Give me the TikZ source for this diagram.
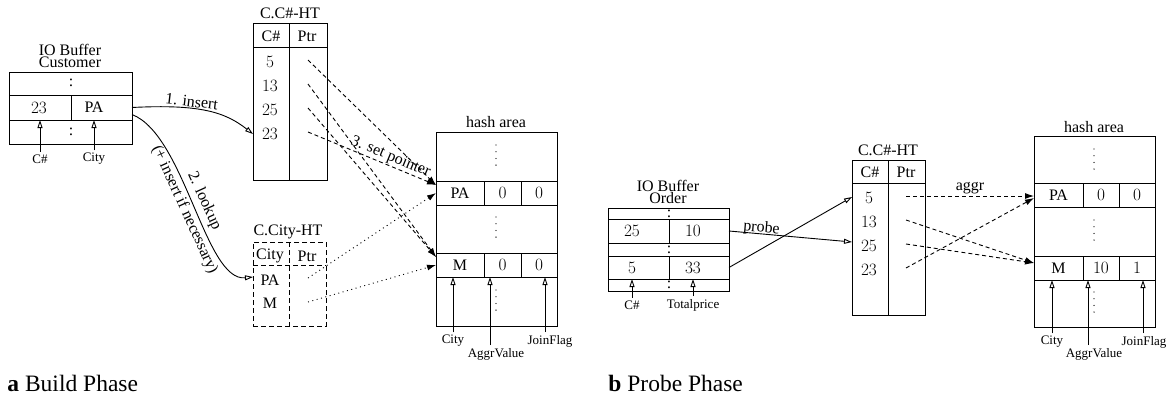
\documentclass[tikz,border=0pt]{standalone}
\usepackage{fontspec}
\setmainfont{Liberation Serif}
\usetikzlibrary{arrows.meta,positioning}
\newcommand{\tabfont}{\fontsize{16}{17}\selectfont}
\newcommand{\headfont}{\fontsize{16}{12}\selectfont}
\newcommand{\tagfont}{\fontsize{13}{14}\selectfont}
\newcommand{\capfont}{\fontsize{23.5}{26}\selectfont}

\begin{document}
\begin{tikzpicture}[x=1pt, y=-1pt, line width=0.9pt,
  txt/.style={font=\tabfont, inner sep=0pt},
  tagtxt/.style={font=\tagfont, inner sep=2.5pt},
  ttl/.style={font=\headfont, inner sep=0pt, align=center},
  slot/.style={draw, font=\tabfont, inner sep=0pt, outer sep=0pt, minimum height=24pt},
  tabframe/.style={draw, inner sep=0pt, outer sep=0pt, anchor=north west},
  dashframe/.style={dash pattern=on 5pt off 3pt},
  hollow/.style={-{Triangle[open, length=8pt, width=5pt]}},
  setptr/.style={dash pattern=on 4pt off 3pt, -{Latex[length=9pt, width=6pt]}},
  cityptr/.style={dash pattern=on 1pt off 3.5pt, -{Latex[length=9pt, width=6pt]}},
  gapdots/.style={line width=1.3pt, line cap=round, dash pattern=on 0pt off 6.7pt}
]
  \useasboundingbox (0,0) rectangle (1171,397);

  % a: build phase
  \node[ttl] (bufCust) at (70,56) {IO Buffer\\Customer};
  \node[tabframe, minimum width=123pt, minimum height=72pt] (custBox) at (9,72) {};
  \node[slot, minimum width=123pt, minimum height=25pt, anchor=north west] (custRow) at (9,95) {};
  \draw (71,95) -- (71,120);
  \node[txt] (custDotsTop) at (71,83) {:};
  \node[txt] (custDotsBot) at (71,132) {:};
  \node[txt] (custKey) at (39,107.5) {$23$};
  \node[txt] (custCity) at (94,107.5) {PA};
  \node[tagtxt] (lblCustKey) at (40,159) {C\#};
  \node[tagtxt] (lblCustCity) at (94,159) {City};
  \draw[hollow] (lblCustKey.north) -- (lblCustKey.north |- custRow.south);
  \draw[hollow] (lblCustCity.north) -- (lblCustCity.north |- custRow.south);

  \node[txt] (htKeyA) at (290,13) {C.C\#-HT};
  \node[tabframe, minimum width=74pt, minimum height=157pt] (tabA) at (253,23) {};
  \draw (253,47) -- (327,47) (289,23) -- (289,180);
  \node[txt] (hdKeyA) at (271,36) {C\#};
  \node[txt] (hdPtrA) at (307,36) {Ptr};
  \foreach \k/\y [count=\i] in {5/62,13/86,25/110,23/134}{
    \node[txt] (keyA\i) at (270,\y) {$\k$};
    \coordinate (ptrA\i) at (308,\y-2);
  }

  \node[txt] (htCity) at (288,232) {C.City-HT};
  \node[tabframe, dashframe, minimum width=73pt, minimum height=84pt] (tabCity) at (253,242) {};
  \draw[dashframe] (253,265) -- (326,265) (289,242) -- (289,326);
  \node[txt] (hdCity) at (270,256) {City};
  \node[txt] (hdPtrC) at (307,256) {Ptr};
  \node[txt] (cityPA) at (270,280) {PA};
  \node[txt] (cityM) at (270,303) {M};
  \coordinate (ptrC1) at (308,278);
  \coordinate (ptrC2) at (308,302);

  \node[txt] (areaA) at (496,122) {hash area};
  \node[tabframe, minimum width=121pt, minimum height=194pt] (hashA) at (436,132) {};
  \node[slot, minimum width=48pt, anchor=north west] (aPA) at (436,181) {PA};
  \node[slot, minimum width=37pt, right=0pt of aPA] (aPAv) {$0$};
  \node[slot, minimum width=36pt, right=0pt of aPAv] (aPAf) {$0$};
  \node[slot, minimum width=48pt, anchor=north west] (aM) at (436,253) {M};
  \node[slot, minimum width=37pt, right=0pt of aM] (aMv) {$0$};
  \node[slot, minimum width=36pt, right=0pt of aMv] (aMf) {$0$};
  \draw[gapdots] (496,145) -- (496,167) (496,217) -- (496,239) (496,290) -- (496,312);
  \node[tagtxt] (lblCityA) at (453,341) {City};
  \node[tagtxt] (lblAggrA) at (496,354) {AggrValue};
  \node[tagtxt] (lblFlagA) at (550,341) {JoinFlag};
  \draw[hollow] (lblCityA.north) -- (lblCityA.north |- aM.south);
  \draw[hollow] ([xshift=-6pt]lblAggrA.north) -- ([xshift=-6pt]lblAggrA.north |- aM.south);
  \draw[hollow] ([xshift=-5pt]lblFlagA.north) -- ([xshift=-5pt]lblFlagA.north |- aM.south);

  \draw[hollow] (custRow.east) .. controls (200,104) and (225,112) ..
    node[sloped, above, pos=0.36, font=\tabfont, inner sep=1pt] {1. insert} (tabA.west |- keyA4);
  \draw[hollow] ([yshift=-7pt]custRow.east) .. controls (185,135) and (205,282) ..
    node[sloped, above, font=\tabfont, inner sep=3pt] {2. lookup}
    node[sloped, below, font=\tabfont, inner sep=3pt] {(+ insert if necessary)}
    ([yshift=3pt]tabCity.west |- cityPA);

  \draw[setptr] (ptrA1) -- ([yshift=-4pt]aPA.north west);
  \draw[setptr] (ptrA4) -- node[sloped, above, pos=0.62, font=\tabfont, inner sep=1pt] {3. set pointer}
    ([yshift=-4pt]aPA.north west);
  \draw[setptr] (ptrA2) -- ([yshift=-4pt]aM.north west);
  \draw[setptr] (ptrA3) -- ([yshift=-4pt]aM.north west);
  \draw[cityptr] (ptrC1) -- (aPA.west);
  \draw[cityptr] (ptrC2) -- (aM.west);

  % b: probe phase
  \node[ttl] (bufOrder) at (668,192) {IO Buffer\\Order};
  \node[tabframe, minimum width=121pt, minimum height=83pt] (ordBox) at (608,208) {};
  \node[slot, minimum width=121pt, anchor=north west] (ordRow1) at (608,219) {};
  \node[slot, minimum width=121pt, minimum height=23pt, anchor=north west] (ordRow2) at (608,256) {};
  \draw (669,219) -- (669,243) (669,256) -- (669,279);
  \node[txt] (ordDots1) at (669,213.5) {:};
  \node[txt] (ordDots2) at (669,249.5) {:};
  \node[txt] (ordDots3) at (669,285) {:};
  \node[txt] (ordKey1) at (632,231) {$25$};
  \node[txt] (ordPrice1) at (693,231) {$10$};
  \node[txt] (ordKey2) at (632,267.5) {$5$};
  \node[txt] (ordPrice2) at (693,267.5) {$33$};
  \node[tagtxt] (lblOrdKey) at (632,305) {C\#};
  \node[tagtxt] (lblOrdPrice) at (693,305) {Totalprice};
  \draw[hollow] (lblOrdKey.north) -- (lblOrdKey.north |- ordRow2.south);
  \draw[hollow] (lblOrdPrice.north) -- (lblOrdPrice.north |- ordRow2.south);

  \node[txt] (htKeyB) at (888,150) {C.C\#-HT};
  \node[tabframe, minimum width=73pt, minimum height=155pt] (tabB) at (852,160) {};
  \draw (852,183) -- (925,183) (888,160) -- (888,315);
  \node[txt] (hdKeyB) at (870,172) {C\#};
  \node[txt] (hdPtrB) at (906,172) {Ptr};
  \foreach \k/\y [count=\i] in {5/198,13/222,25/246,23/270}{
    \node[txt] (keyB\i) at (869,\y) {$\k$};
    \coordinate (ptrB\i) at (906,\y-2);
  }

  \draw[hollow] (ordRow1.east) -- node[sloped, above=-2pt, pos=0.26, font=\tabfont, inner sep=0pt] {probe}
    ([yshift=4pt]tabB.west |- keyB3);
  \draw[hollow] (ordRow2.east) -- ([yshift=1pt]tabB.west |- keyB1);

  \node[txt] (areaB) at (1094,127) {hash area};
  \node[tabframe, minimum width=121pt, minimum height=191pt] (hashB) at (1034,136) {};
  \node[slot, minimum width=49pt, anchor=north west] (bPA) at (1034,183) {PA};
  \node[slot, minimum width=36pt, right=0pt of bPA] (bPAv) {$0$};
  \node[slot, minimum width=36pt, right=0pt of bPAv] (bPAf) {$0$};
  \node[slot, minimum width=49pt, anchor=north west] (bM) at (1034,256) {M};
  \node[slot, minimum width=36pt, right=0pt of bM] (bMv) {$10$};
  \node[slot, minimum width=36pt, right=0pt of bMv] (bMf) {$1$};
  \draw[gapdots] (1094,149) -- (1094,170) (1094,220) -- (1094,242) (1094,292) -- (1094,314);
  \node[tagtxt] (lblCityB) at (1052,342) {City};
  \node[tagtxt] (lblAggrB) at (1094,354) {AggrValue};
  \node[tagtxt] (lblFlagB) at (1144,342) {JoinFlag};
  \draw[hollow] (lblCityB.north) -- (lblCityB.north |- bM.south);
  \draw[hollow] ([xshift=-6pt]lblAggrB.north) -- ([xshift=-6pt]lblAggrB.north |- bM.south);
  \draw[hollow] ([xshift=-1pt]lblFlagB.north) -- ([xshift=-1pt]lblFlagB.north |- bM.south);

  \draw[setptr] (ptrB1) -- node[above, font=\tabfont, inner sep=2pt] {aggr} (bPA.west |- ptrB1);
  \draw[setptr] (ptrB2) -- ([yshift=5pt]bM.west);
  \draw[setptr] (ptrB3) -- ([yshift=5pt]bM.west);
  \draw[setptr] (ptrB4) -- ([yshift=-3pt]bPA.west);

  \node[anchor=base west, font=\capfont, inner sep=0pt] (capA) at (7,391) {\textbf{a} Build Phase};
  \node[anchor=base west, font=\capfont, inner sep=0pt] (capB) at (608,391) {\textbf{b} Probe Phase};
\end{tikzpicture}
\end{document}
